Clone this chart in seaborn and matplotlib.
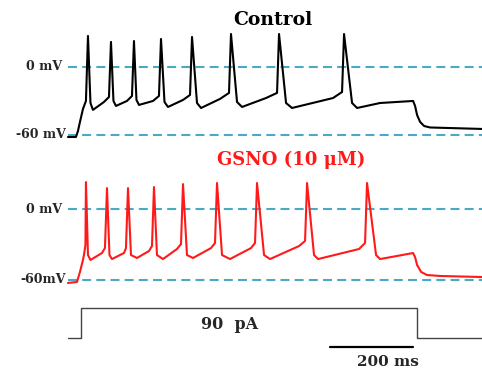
import numpy as np
import pandas as pd
import matplotlib
matplotlib.use("Agg")
import matplotlib.pyplot as plt
import seaborn as sns

# ---------------- data (time in ms, voltage in mV, current in pA) ----------------
# Control trace
ctrl_start_t = [-31.3, -12.0, -7.2, -2.4, 4.8]
ctrl_start_v = [-61.8, -61.8, -56.5, -48.5, -37.1]
ctrl_knee_t = [55.4, 110.8, 173.5, 245.8, 334.9, 445.8, 607.2]          # ramp knee before spikes 2..8
ctrl_knee_v = [-30.9, -30.0, -30.0, -29.1, -28.2, -27.4, -27.4]
ctrl_pre_t = [12.0, 67.5, 122.9, 187.9, 262.7, 356.6, 472.3, 628.9]
ctrl_pre_v = [-30.0, -26.5, -25.6, -25.6, -24.7, -22.9, -22.9, -22.1]
ctrl_peak_t = [16.9, 72.3, 127.7, 192.8, 267.5, 361.4, 477.1, 633.7]
ctrl_peak_v = [27.4, 22.1, 22.9, 24.7, 26.5, 29.1, 29.1, 29.1]
ctrl_fall_t = [22.9, 78.3, 133.7, 201.2, 279.5, 375.9, 494.0, 653.0]
ctrl_fall_v = [-31.8, -30.0, -29.1, -30.9, -31.8, -30.9, -31.8, -31.8]
ctrl_trough_t = [28.9, 84.3, 139.8, 209.6, 289.2, 388.0, 508.4, 665.1]
ctrl_trough_v = [-37.9, -34.4, -33.5, -35.3, -36.2, -35.3, -36.2, -36.2]
ctrl_end_t = [720.4, 800.0, 804.8, 809.6, 816.9, 826.5, 841.0, 966.0]
ctrl_end_v = [-31.8, -30.0, -34.4, -42.4, -48.5, -52.1, -53.4, -54.7]

# GSNO trace
gsno_start_t = [-31.3, -9.6, -2.4, 4.8, 7.2]
gsno_start_v = [-62.5, -61.7, -53.2, -43.1, -38.9]
gsno_knee_t = [50.6, 103.6, 163.9, 231.3, 313.3, 409.6, 525.3, 669.9]   # ramp knee before spikes 2..9
gsno_knee_v = [-37.2, -37.2, -35.5, -33.8, -33.0, -33.0, -31.3, -33.8]
gsno_pre_t = [10.8, 57.8, 108.4, 171.1, 241.0, 322.9, 419.3, 539.8, 684.3]
gsno_pre_v = [-30.4, -33.0, -33.0, -31.3, -29.6, -28.7, -28.7, -27.0, -28.7]
gsno_peak_t = [12.0, 62.7, 113.3, 175.9, 245.8, 327.7, 424.1, 544.6, 689.1]
gsno_peak_v = [22.8, 17.7, 17.7, 18.6, 21.1, 22.0, 22.0, 22.0, 22.0]
gsno_fall_t = [16.9, 68.7, 120.5, 183.1, 255.4, 339.8, 441.0, 561.4, 710.8]
gsno_fall_v = [-38.9, -38.9, -38.9, -38.9, -38.9, -38.9, -38.9, -38.9, -38.9]
gsno_trough_t = [22.9, 74.7, 134.9, 197.6, 269.9, 359.0, 455.4, 571.1, 720.5]
gsno_trough_v = [-43.1, -42.3, -41.4, -42.3, -41.4, -42.3, -42.3, -42.3, -42.3]
gsno_end_t = [800.0, 804.8, 809.6, 819.3, 833.7, 865.0, 966.0]
gsno_end_v = [-37.2, -40.6, -47.3, -53.2, -55.8, -56.6, -57.5]

# Stimulus command
stim_t = [-31, 0, 0, 810, 810, 966]
stim_i = [0, 0, 90, 90, 0, 0]
stim_label = "90  pA"

# Scale bar
scale_t = [600, 800]
scale_label = "200 ms"

ref_levels = [0, -60]


def build(start_t, start_v, knee_t, knee_v, pre_t, pre_v, peak_t, peak_v,
          fall_t, fall_v, tr_t, tr_v, end_t, end_v):
    t = list(start_t)
    v = list(start_v)
    for k in range(len(pre_t)):
        if k > 0:
            t.append(knee_t[k - 1])
            v.append(knee_v[k - 1])
        t += [pre_t[k], peak_t[k], fall_t[k], tr_t[k]]
        v += [pre_v[k], peak_v[k], fall_v[k], tr_v[k]]
    t += list(end_t)
    v += list(end_v)
    return pd.DataFrame({"t": t, "v": v})


ctrl = build(ctrl_start_t, ctrl_start_v, ctrl_knee_t, ctrl_knee_v, ctrl_pre_t,
             ctrl_pre_v, ctrl_peak_t, ctrl_peak_v, ctrl_fall_t, ctrl_fall_v,
             ctrl_trough_t, ctrl_trough_v, ctrl_end_t, ctrl_end_v)
gsno = build(gsno_start_t, gsno_start_v, gsno_knee_t, gsno_knee_v, gsno_pre_t,
             gsno_pre_v, gsno_peak_t, gsno_peak_v, gsno_fall_t, gsno_fall_v,
             gsno_trough_t, gsno_trough_v, gsno_end_t, gsno_end_v)
stim = pd.DataFrame({"t": stim_t, "i": stim_i})

sns.set_style("white")
plt.rcParams["font.family"] = ["DejaVu Serif"]

fig = plt.figure(figsize=(4.82, 3.72), dpi=100)
XL = (-195, 966)
ax1 = fig.add_axes([0, 0.597, 1, 0.403])
ax2 = fig.add_axes([0, 0.207, 1, 0.403])
ax3 = fig.add_axes([0, 0.0, 1, 0.207])
for ax in (ax1, ax2, ax3):
    ax.set_xlim(*XL)
    ax.set_axis_off()
    ax.patch.set_alpha(0)
ax1.set_ylim(-73.2, 59.1)
ax2.set_ylim(-72.7, 54.1)
ax3.set_ylim(-102, 129)

dash_col = "#4aaac6"
for ax in (ax1, ax2):
    for lv in ref_levels:
        ax.plot([-31, 966], [lv, lv], color=dash_col, lw=1.5,
                linestyle=(0, (4.3, 2.5)), zorder=1, clip_on=False)

sns.lineplot(data=ctrl, x="t", y="v", sort=False, estimator=None, ax=ax1,
             color="black", lw=1.5, zorder=3)
sns.lineplot(data=gsno, x="t", y="v", sort=False, estimator=None, ax=ax2,
             color="#ff1a1a", lw=1.5, zorder=3)
sns.lineplot(data=stim, x="t", y="i", sort=False, estimator=None, ax=ax3,
             color="#444444", lw=1.0, zorder=3)
ax3.plot(scale_t, [-27, -27], color="black", lw=1.6)

lab_kw = dict(ha="right", va="center", fontsize=9, fontweight="bold")
ax1.text(-46, 0, "0 mV", **lab_kw)
ax1.text(-36, -60, "-60 mV", **lab_kw)
ax2.text(-46, 0, "0 mV", **lab_kw)
ax2.text(-36, -60, "-60mV", **lab_kw)

ax1.text(463, 41.5, "Control", ha="center", va="center", fontsize=13.5,
         fontweight="bold", color="black")
ax2.text(506, 41.4, "GSNO (10 μM)", ha="center", va="center", fontsize=13,
         fontweight="bold", color="#ff1a1a")
ax3.text(359, 39, stim_label, ha="center", va="center", fontsize=11.5,
         fontweight="bold")
ax3.text(740, -72, scale_label, ha="center", va="center", fontsize=11,
         fontweight="bold")

fig.savefig("out.png", dpi=100)
